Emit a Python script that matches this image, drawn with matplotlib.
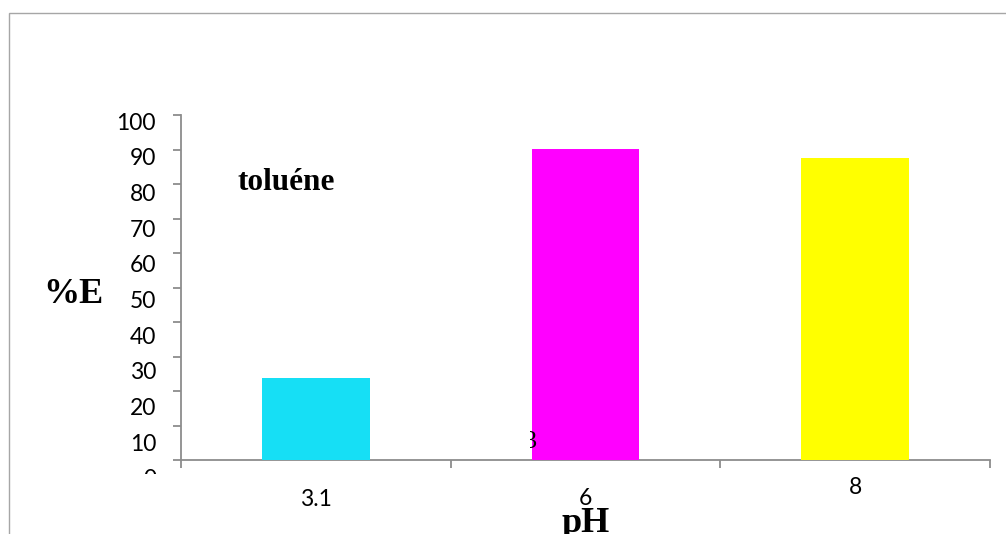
import matplotlib
matplotlib.use("Agg")
import matplotlib.pyplot as plt
from matplotlib.transforms import ScaledTranslation, Bbox, TransformedBbox
from matplotlib.patches import Rectangle

# ---- data ----
categories = ["3.1", "6", "8"]
values = [23.7, 90.1, 87.6]
bar_colors = ["#16DFF5", "#FF00FF", "#FFFF00"]
yticks = [0, 10, 20, 30, 40, 50, 60, 70, 80, 90, 100]
ylabel = "%E"
xlabel = "pH"
annotation = "toluéne"
stray_text = "3"

W, H = 1006, 534
DPI = 100
fig = plt.figure(figsize=(W / DPI, H / DPI), dpi=DPI)
fig.patch.set_facecolor("white")

def px(v):
    return v * 72.0 / DPI  # pixels -> points

# outer chart border (top + left visible)
fig.patches.append(Rectangle((9 / W, -0.2), 1.2, 1 - 13 / H + 0.2, transform=fig.transFigure,
                             fill=False, edgecolor="#a6a6a6", linewidth=1.0, clip_on=False))

left, right, bottom, top = 181, 990, 460, 115
ax = fig.add_axes([left / W, 1 - bottom / H, (right - left) / W, (bottom - top) / H])

x = list(range(len(categories)))
ax.bar(x, values, width=0.4, color=bar_colors, zorder=3)
ax.set_xlim(-0.5, len(categories) - 0.5)
ax.set_ylim(0, 100)

for s in ["top", "right"]:
    ax.spines[s].set_visible(False)
for s in ["left", "bottom"]:
    ax.spines[s].set_color("#8c8c8c")
    ax.spines[s].set_linewidth(1.3)

ax.set_xticks([i - 0.5 for i in range(len(categories) + 1)])
ax.set_xticklabels([])
ax.set_yticks(yticks)
ax.set_yticklabels([])
ax.tick_params(axis="both", direction="out", length=px(8), width=1.3, color="#8c8c8c")

tick_font = dict(family="Lato", size=16.5, color="black")

# y tick labels (slightly drifting positions as in the original)
clip = TransformedBbox(Bbox([[0, 60 / H], [1, 1]]), fig.transFigure)
for k, v in enumerate(sorted(yticks, reverse=True)):
    dy = 8 + 1.2 * k
    tr = ax.get_yaxis_transform() + ScaledTranslation(-px(25) / 72, -px(dy) / 72, fig.dpi_scale_trans)
    t = ax.text(0, v, str(v), transform=tr, ha="right", va="center", clip_on=False, **tick_font)
    if v == 0:
        t.set_clip_on(True)
        t.set_clip_box(clip)

# x tick labels
x_offsets = [40, 38.5, 28]
for i, (c, dy) in enumerate(zip(categories, x_offsets)):
    tr = ax.get_xaxis_transform() + ScaledTranslation(0, -px(dy) / 72, fig.dpi_scale_trans)
    ax.text(i, 0, c, transform=tr, ha="center", va="center", clip_on=False, **tick_font)

serif_bold = dict(family="Liberation Serif", weight="bold", color="black")
fig.text(73 / W, 1 - 303 / H, ylabel, ha="center", va="baseline", fontsize=26, **serif_bold)
fig.text(586 / W, 1 - 532 / H, xlabel, ha="center", va="baseline", fontsize=26, **serif_bold)
fig.text(237 / W, 1 - 190 / H, annotation, ha="left", va="baseline", fontsize=22.5, **serif_bold)

# stray partially hidden glyph
st = fig.text(524 / W, 1 - 448 / H, stray_text, ha="left", va="baseline", fontsize=19,
              family="Liberation Serif", color="black", zorder=5)
st.set_clip_on(True)
st.set_clip_box(TransformedBbox(Bbox([[530 / W, 0], [1, 1]]), fig.transFigure))

fig.savefig("out.png", dpi=DPI, facecolor="white")
